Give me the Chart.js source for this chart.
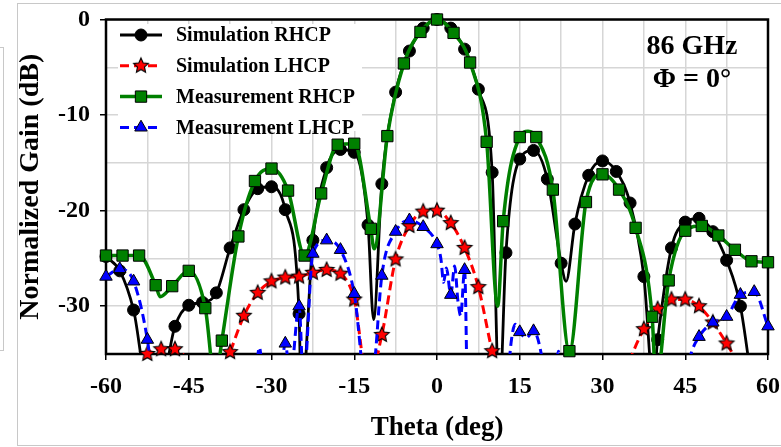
<!DOCTYPE html>
<html><head><meta charset="utf-8">
<script src="https://cdn.jsdelivr.net/npm/chart.js@4.4.0/dist/chart.umd.min.js"></script>
<style>
html,body{margin:0;padding:0;background:#fff;overflow:hidden;}
#wrap{position:relative;width:781px;height:447px;overflow:hidden;}
#frame{position:absolute;left:17px;top:3px;width:800px;height:441px;border:1px solid #c8c8c8;}
#side{position:absolute;left:-20px;top:47px;width:22px;height:302px;border:1px solid #c8c8c8;}
canvas{position:absolute;left:0;top:0;}
</style></head><body>
<div id="wrap"><div id="frame"></div><div id="side"></div><canvas id="c" width="781" height="447"></canvas></div>
<script>
// ---------------- DATA ----------------
const seriesNames = ['Simulation RHCP', 'Simulation LHCP', 'Measurement RHCP', 'Measurement LHCP'];
const annotationLines = ['86 GHz', '\u03A6 = 0\u00B0'];
const xTitle = 'Theta (deg)';
const yTitle = 'Normalized Gain (dB)';

const simRhcpTheta = [-60,-57.5,-55,-52.5,-50,-47.5,-45,-42.5,-40,-37.5,-35,-32.5,-30,-27.5,-25,-24.6,-22.5,-20,-17.5,-15,-12.5,-11.5,-10,-7.5,-5,-2.5,0,2.5,5,7.5,10,11.3,12.5,15,17.5,20,22.5,23.4,25,27.5,30,32.5,35,37.5,39.2,40,42.5,45,47.5,50,52.5,55,57.5];
const simRhcpGain  = [-24.8,-26.3,-30.4,-38,-38,-32.1,-29.9,-29.6,-28.6,-23.9,-19.9,-17.7,-17.5,-19.9,-30.8,-40,-23.1,-15.5,-13.6,-13.9,-21.5,-31.4,-17.2,-7.6,-3.3,-0.9,0,-0.9,-3.1,-7.3,-16.0,-40,-24.4,-14.6,-13.7,-16.7,-25.5,-27.4,-21.4,-16.3,-14.8,-15.9,-19.2,-26.9,-38,-33.5,-23.9,-21.2,-20.8,-22.2,-25.2,-30.0,-40];

const simLhcpTheta = [-55,-52.5,-50,-47.5,-45,-42.5,-40,-37.5,-35,-32.5,-30,-27.5,-25,-22.5,-20,-17.5,-15,-12.5,-10,-7.5,-5,-2.5,0,2.5,5,7.5,10,12.5,20,32.5,35,37.5,40,42.5,45,47.5,50,52.5,55,57.5];
const simLhcpGain  = [-38,-35.0,-34.5,-34.5,-36,-40,-38.5,-34.8,-31.0,-28.6,-27.4,-27.0,-26.9,-26.5,-26.2,-26.6,-29.3,-38,-33.0,-25.1,-21.6,-20.1,-20.0,-21.3,-23.9,-28.0,-34.7,-40,null,-40,-35.6,-32.4,-30.3,-29.3,-29.3,-30.0,-31.7,-33.9,-36.5,-40];

const measRhcpTheta = [-60,-57,-54,-51,-50.2,-48,-45,-42,-40.2,-39,-36,-33,-30,-27,-24,-21,-18,-15,-12,-11.4,-9,-6,-3,0,3,6,9,11,12,15,16.5,18,21,24,27,30,33,36,39,39.7,42,45,48,51,54,57,60];
const measRhcpGain  = [-24.7,-24.7,-24.7,-27.8,-29.0,-27.9,-26.3,-30.2,-38,-33.6,-22.7,-16.9,-15.6,-17.9,-24.7,-18.2,-13.1,-13.0,-21.9,-24.0,-12.2,-4.6,-1.3,0,-1.4,-4.5,-12.8,-30.0,-21.1,-12.3,-11.7,-12.3,-17.8,-34.7,-19.1,-16.2,-17.8,-21.8,-31.1,-38,-27.3,-22.1,-21.6,-22.6,-24.1,-25.3,-25.4];

const measLhcpTheta = [-60,-57.5,-55,-52.5,-51.5,-45,-32.8,-32.2,-31.6,-30,-28.3,-27.5,-26.6,-25,-24.2,-22.5,-20,-17.5,-15,-12.5,-11.4,-10,-7.5,-5,-2.5,0,0.7,1.2,1.7,2.5,3.2,3.8,4.3,5,5.5,8,12.5,13.5,14.2,15,16.2,17.5,19.2,20,21.5,22,22.5,23,44.5,45.8,47.5,50,52.5,55,57.5,60];
const measLhcpGain  = [-26.9,-26.1,-27.4,-33.5,-38,null,-37,-34.3,-37,null,-37.5,-33.9,-37.5,-30.0,-38,-24.5,-23.1,-24.1,-28.7,-40,-36.5,-26.8,-22.2,-21.0,-21.7,-23.5,-25.0,-27.5,-26.0,-28.8,-25.8,-29.5,-31.0,-26.2,-40,null,-40,-33.5,-31.9,-32.7,-33.3,-32.6,-36,-40,-37,-34.7,-37,null,-40,-35.5,-33.2,-31.7,-31.1,-28.8,-28.5,-32.1];

// marker sampling step of each series (markers sit on these theta multiples)
const markerSteps = [2.5, 2.5, 3, 2.5];

// ---------------- STYLE ----------------
const FONT = '"Liberation Serif", "Times New Roman", serif';

function makeStar(r, fill) {
  const s = Math.ceil(2 * r + 4);
  const c = document.createElement('canvas');
  c.width = s; c.height = s;
  const g = c.getContext('2d');
  g.beginPath();
  for (let i = 0; i < 10; i++) {
    const a = -Math.PI / 2 + i * Math.PI / 5;
    const rr = (i % 2) ? r * 0.47 : r;
    g.lineTo(s / 2 + rr * Math.cos(a), s / 2 + rr * Math.sin(a));
  }
  g.closePath();
  g.fillStyle = fill; g.fill();
  g.lineWidth = 1.1; g.strokeStyle = '#000'; g.stroke();
  return c;
}
const starImg = makeStar(7.8, '#ff0000');

const styles = [
  {color: '#000000', width: 2.8, dash: [],    kind: 'circle',   pointStyle: 'circle',   radius: 6.0, fill: '#000000'},
  {color: '#ff0000', width: 3,   dash: [9, 5], kind: 'star',    pointStyle: starImg,    radius: 7.8, fill: '#ff0000'},
  {color: '#008000', width: 3.5, dash: [],    kind: 'rect',     pointStyle: 'rect',     radius: 8.0, fill: '#008000'},
  {color: '#0000ff', width: 3,   dash: [9, 5], kind: 'triangle', pointStyle: 'triangle', radius: 7.2, fill: '#0000ff'}
];

const thetas = [simRhcpTheta, simLhcpTheta, measRhcpTheta, measLhcpTheta];
const gains  = [simRhcpGain,  simLhcpGain,  measRhcpGain,  measLhcpGain];

function linePts(t, g) { return t.map((x, i) => ({x: x, y: g[i]})); }
function markPts(t, g, step) {
  return t.map((x, i) => ({x: x, y: g[i]})).filter(p =>
    p.y !== null && p.y >= -35.3 && Math.abs(p.x / step - Math.round(p.x / step)) < 1e-6);
}

const datasets = [];
for (let k = 0; k < 4; k++) {
  const s = styles[k];
  datasets.push({
    label: seriesNames[k],
    data: linePts(thetas[k], gains[k]),
    borderColor: s.color, borderWidth: s.width, borderDash: s.dash,
    pointRadius: 0, pointHoverRadius: 0, fill: false,
    cubicInterpolationMode: 'monotone', spanGaps: false,
    order: 8 - 2 * k
  });
  datasets.push({
    label: seriesNames[k] + ' markers',
    data: markPts(thetas[k], gains[k], markerSteps[k]),
    showLine: false,
    pointStyle: s.pointStyle, pointRadius: s.radius, pointHoverRadius: s.radius,
    pointBackgroundColor: s.fill, pointBorderColor: '#000', pointBorderWidth: 1,
    clip: false,
    order: 7 - 2 * k
  });
}

function drawMarker(ctx, s, x, y) {
  ctx.save();
  ctx.fillStyle = s.fill; ctx.strokeStyle = '#000'; ctx.lineWidth = 1;
  ctx.beginPath();
  if (s.kind === 'star') {
    ctx.drawImage(starImg, x - starImg.width / 2, y - starImg.height / 2);
    ctx.restore(); return;
  } else if (s.kind === 'circle') {
    ctx.arc(x, y, s.radius, 0, Math.PI * 2);
  } else if (s.kind === 'rect') {
    const h = s.radius * Math.SQRT1_2;
    ctx.rect(x - h, y - h, 2 * h, 2 * h);
  } else if (s.kind === 'triangle') {
    for (let i = 0; i < 3; i++) {
      const a = i * 2 * Math.PI / 3;
      ctx.lineTo(x + Math.sin(a) * s.radius, y - Math.cos(a) * s.radius);
    }
    ctx.closePath();
  }
  ctx.fill(); ctx.stroke();
  ctx.restore();
}

const deco = {
  id: 'deco',
  beforeDatasetsDraw(chart) {
    const ctx = chart.ctx, a = chart.chartArea;
    ctx.save();
    ctx.fillStyle = '#ffffff';
    ctx.fillRect(118, 24, 244, 107);
    ctx.strokeStyle = '#000'; ctx.lineWidth = 2.5;
    ctx.strokeRect(a.left, a.top, a.right - a.left, a.bottom - a.top);
    ctx.restore();
  },
  afterDatasetsDraw(chart) {
    const ctx = chart.ctx;
    ctx.save();
    for (let k = 0; k < 4; k++) {
      const s = styles[k];
      const y = 35 + k * 30.8;
      ctx.strokeStyle = s.color; ctx.lineWidth = s.width; ctx.setLineDash(s.dash);
      ctx.beginPath(); ctx.moveTo(120, y); ctx.lineTo(162, y); ctx.stroke();
      ctx.setLineDash([]);
      drawMarker(ctx, s, 141, y);
      ctx.fillStyle = '#000';
      ctx.font = 'bold 20px ' + FONT;
      ctx.textAlign = 'left'; ctx.textBaseline = 'middle';
      ctx.fillText(seriesNames[k], 176, y + 1);
    }
    ctx.font = 'bold 28px ' + FONT;
    ctx.textAlign = 'center'; ctx.textBaseline = 'middle';
    ctx.fillText(annotationLines[0], 692, 47);
    ctx.fillText(annotationLines[1], 692, 80);
    ctx.restore();
  }
};

const tickFont = {family: FONT, size: 24, weight: 'bold'};
const gridColor = '#d6d6d6';

new Chart(document.getElementById('c'), {
  type: 'line',
  data: {datasets: datasets},
  options: {
    responsive: false, animation: false, devicePixelRatio: 1,
    layout: {padding: {top: 19.5, right: 13, bottom: 0, left: 0}},
    plugins: {legend: {display: false}, tooltip: {enabled: false}},
    events: [],
    scales: {
      x: {
        type: 'linear', min: -60, max: 60,
        ticks: {
          stepSize: 7.5, autoSkip: false, maxRotation: 0, color: '#000', font: tickFont, padding: 12,
          callback: v => (Math.abs(v % 15) < 1e-9 ? String(v) : '')
        },
        grid: {
          color: gridColor, lineWidth: 1.5, tickLength: 6, tickWidth: 1.5,
          tickColor: c => (c.tick && Math.abs(c.tick.value % 15) < 1e-9) ? '#000' : 'rgba(0,0,0,0)'
        },
        border: {display: false},
        title: {display: true, text: xTitle, color: '#000', font: {family: FONT, size: 27, weight: 'bold'}, padding: {top: 0, bottom: 3}},
        afterFit: s => { s.height = 93; s.paddingLeft = 0; s.paddingRight = 0; }
      },
      y: {
        type: 'linear', min: -35, max: 0,
        ticks: {
          stepSize: 5, color: '#000', font: tickFont, padding: 10,
          callback: v => (Math.abs(v % 10) < 1e-9 ? String(v) : '')
        },
        grid: {
          color: gridColor, lineWidth: 1.5, tickLength: 6, tickWidth: 1.5,
          tickColor: c => (c.tick && Math.abs(c.tick.value % 10) < 1e-9) ? '#000' : 'rgba(0,0,0,0)'
        },
        border: {display: false},
        title: {display: true, text: yTitle, color: '#000', font: {family: FONT, size: 28, weight: 'bold'}, padding: {top: 14, bottom: 0}},
        afterFit: s => { s.width = 106; s.paddingTop = 0; s.paddingBottom = 0; }
      }
    }
  },
  plugins: [deco]
});
</script>
</body></html>
